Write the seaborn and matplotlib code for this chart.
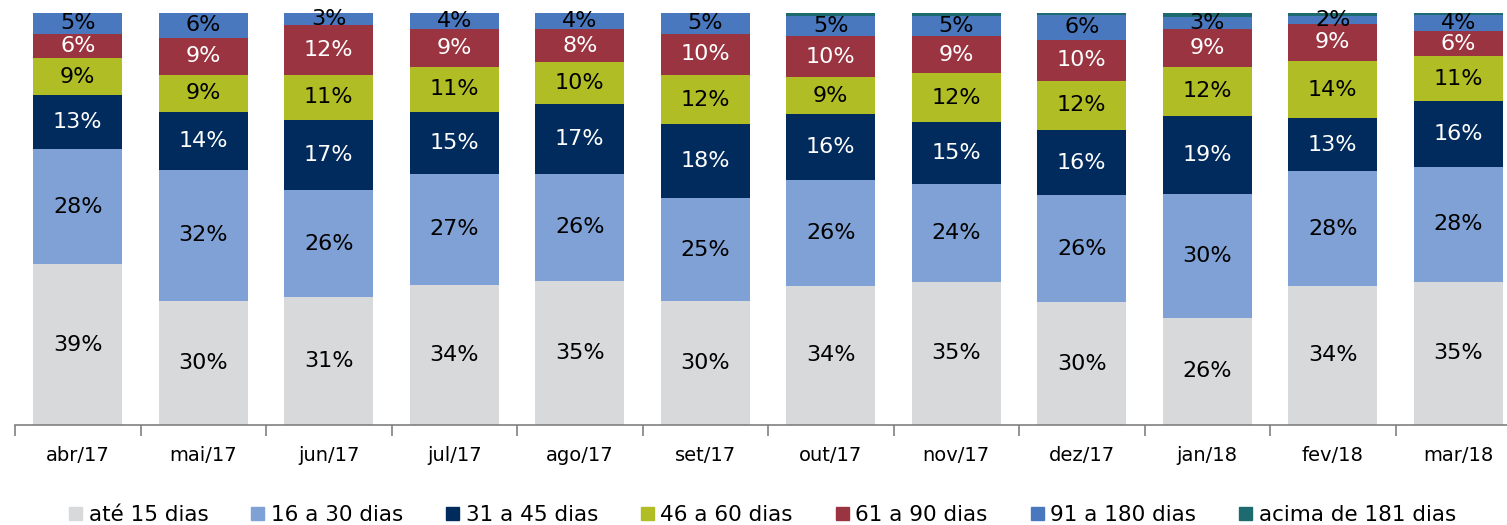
import matplotlib
matplotlib.use("Agg")
import matplotlib.pyplot as plt
import matplotlib.patches as mpatches
import seaborn as sns
import pandas as pd
import numpy as np

months = ["abr/17", "mai/17", "jun/17", "jul/17", "ago/17", "set/17",
          "out/17", "nov/17", "dez/17", "jan/18", "fev/18", "mar/18"]
series = ["até 15 dias", "16 a 30 dias", "31 a 45 dias", "46 a 60 dias",
          "61 a 90 dias", "91 a 180 dias", "acima de 181 dias"]

ate15 = [39, 30, 31, 34, 35, 30, 34, 35, 30, 26, 34, 35]
d16_30 = [28, 32, 26, 27, 26, 25, 26, 24, 26, 30, 28, 28]
d31_45 = [13, 14, 17, 15, 17, 18, 16, 15, 16, 19, 13, 16]
d46_60 = [9, 9, 11, 11, 10, 12, 9, 12, 12, 12, 14, 11]
d61_90 = [6, 9, 12, 9, 8, 10, 10, 9, 10, 9, 9, 6]
d91_180 = [5, 6, 3, 4, 4, 5, 5, 5, 6, 3, 2, 4]
acima181 = [0, 0, 0, 0, 0, 0, 0.7, 0.7, 0.5, 1.0, 0.7, 0.5]

colors = ["#D7D9DB", "#7FA1D5", "#002B5C", "#B0BD24", "#9A3441", "#4A78BE", "#1D6B6E"]
txt_colors = ["black", "black", "white", "black", "white", "black", "white"]

df = pd.DataFrame(dict(zip(series, [ate15, d16_30, d31_45, d46_60, d61_90, d91_180, acima181])),
                  index=months)
pct = df.div(df.sum(axis=1), axis=0) * 100
cum = pct.cumsum(axis=1)

fig = plt.figure(figsize=(15.07, 5.25), dpi=100)
ax = fig.add_axes([15 / 1507, 100 / 525, 1506 / 1507, 412 / 525])

# cumulative totals drawn from the top layer down so each layer shows
for i in range(len(series) - 1, -1, -1):
    d = pd.DataFrame({"mes": months, "v": cum.iloc[:, i].values})
    sns.barplot(data=d, x="mes", y="v", color=colors[i], width=0.71,
                saturation=1, linewidth=0, ax=ax)

# labels
for j, m in enumerate(months):
    for i, s in enumerate(series):
        v = df.loc[m, s]
        if v < 1.5:
            continue
        yc = cum.loc[m, s] - pct.loc[m, s] / 2
        ax.text(j, yc, f"{v:.0f}%", ha="center", va="center",
                color=txt_colors[i], fontsize=16)

ax.set_ylim(0, 100)
ax.set_xlim(-0.5, 11.5)
ax.set_xlabel("")
ax.set_ylabel("")
ax.set_yticks([])
for sp in ["left", "top", "right"]:
    ax.spines[sp].set_visible(False)
ax.spines["bottom"].set_color("#808080")
ax.spines["bottom"].set_linewidth(1.2)
ax.tick_params(axis="x", which="major", length=0, pad=15, labelsize=14)
ax.set_xticks(np.arange(-0.5, 12, 1), minor=True)
ax.tick_params(axis="x", which="minor", length=8, width=1.2, color="#808080")

handles = [mpatches.Patch(color=c, label=s) for c, s in zip(colors, series)]
fig.legend(handles=handles, loc="lower center", bbox_to_anchor=(0.506, -0.037),
           ncol=7, frameon=False, fontsize=15.5, handlelength=0.6, handleheight=0.6,
           handletextpad=0.3, columnspacing=2.0)

fig.savefig("out.png", dpi=100)
